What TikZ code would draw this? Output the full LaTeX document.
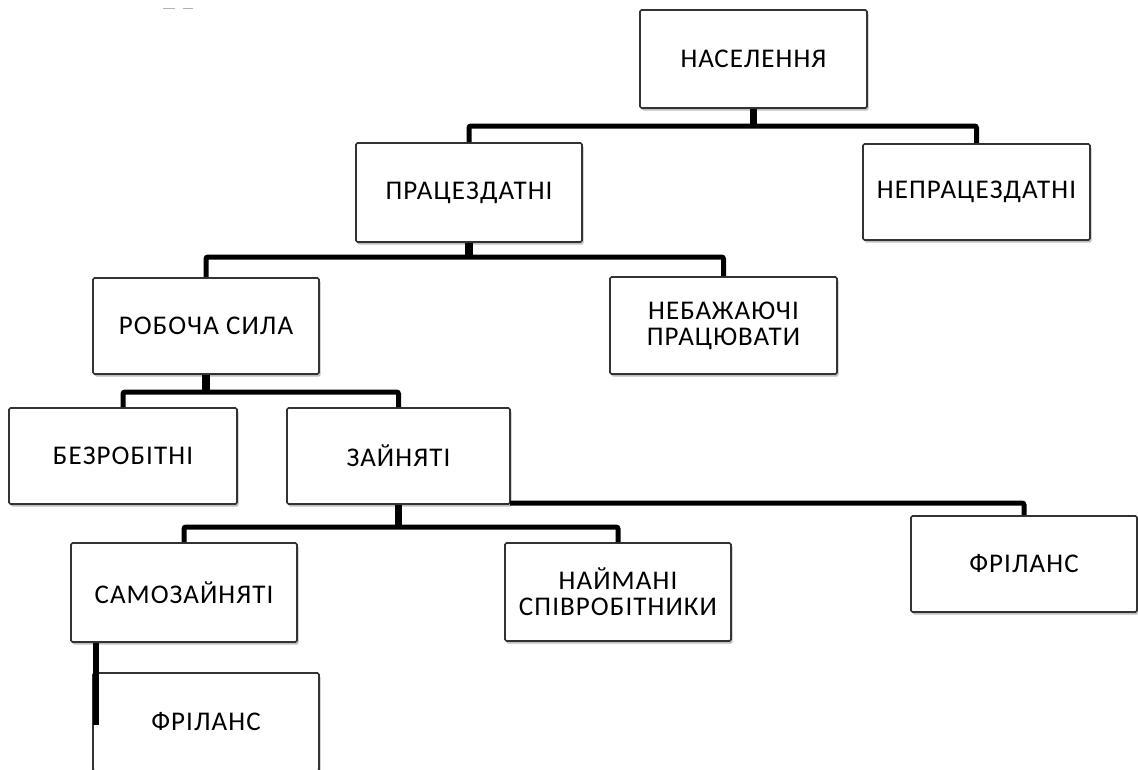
\documentclass[tikz,border=0pt]{standalone}
\usepackage{fontspec}
\setmainfont{Carlito}[LetterSpace=4]
\usetikzlibrary{calc,shadows}
\tikzset{
  box/.style={draw=black!80, line width=1.6pt, fill=white, rounded corners=1.5pt,
    align=center, inner sep=0pt, font=\fontsize{27}{26}\selectfont,
    drop shadow={shadow xshift=1.5pt, shadow yshift=-2.5pt, opacity=0.25, fill=black}},
  bar/.style={line width=5pt, black, rounded corners=2pt},
  stem/.style={line width=7.5pt, black},
  smudge/.style={line width=1.5pt, gray!60}
}
\begin{document}
\begin{tikzpicture}[x=1pt,y=-1pt]
\useasboundingbox (0,0) rectangle (1138,769);
% faint remnants at top left
\draw[smudge] (163,8.5) -- (175,8.5);
\draw[smudge] (183,8.5) -- (193,8.5);

% connector junctions
\coordinate (pb) at (753.5,126);
\coordinate (ab) at (469,257);
\coordinate (lb) at (206,392);
\coordinate (eb) at (398.5,527);
\coordinate (ef) at (510,503);
\coordinate (sf) at (96,725);

% boxes
\node[box, minimum width=227pt, minimum height=98pt] (pop) at (753.5,59) {НАСЕЛЕННЯ};
\node[box, minimum width=226pt, minimum height=99pt] (able) at (469,192.5) {ПРАЦЕЗДАТНІ};
\node[box, minimum width=227pt, minimum height=96pt] (unable) at (976.5,192) {НЕПРАЦЕЗДАТНІ};
\node[box, minimum width=226pt, minimum height=96pt] (labor) at (206,326) {РОБОЧА СИЛА};
\node[box, minimum width=227pt, minimum height=97pt] (unwill) at (723.5,325.5) {НЕБАЖАЮЧІ\\ПРАЦЮВАТИ};
\node[box, minimum width=228pt, minimum height=96pt] (unemp) at (123,456) {БЕЗРОБІТНІ};
\node[box, minimum width=223pt, minimum height=96pt] (emp) at (398.5,456) {ЗАЙНЯТІ};
\node[box, minimum width=226pt, minimum height=99pt] (self) at (184,592.5) {САМОЗАЙНЯТІ};
\node[box, minimum width=226pt, minimum height=98pt] (hired) at (618,592) {НАЙМАНІ\\СПІВРОБІТНИКИ};
\node[box, minimum width=226pt, minimum height=96pt] (free1) at (1024,564) {ФРІЛАНС};
\node[box, minimum width=226pt, minimum height=98pt] (free2) at (206,722) {ФРІЛАНС};

% tree connectors
\draw[stem] (pop.south) -- (pb);
\draw[bar] (able.north) |- (pb) -| (unable.north);
\draw[stem] (able.south) -- (ab);
\draw[bar] (labor.north) |- (ab) -| (unwill.north);
\draw[stem] (labor.south) -- (lb);
\draw[bar] (unemp.north) |- (lb) -| (emp.north);
\draw[stem] (emp.south) -- (eb);
\draw[bar] (self.north) |- (eb) -| (hired.north);
\draw[bar] (ef) -| (free1.north);
\draw[line width=6pt] (self.south -| sf) -- (sf);
\end{tikzpicture}
\end{document}
